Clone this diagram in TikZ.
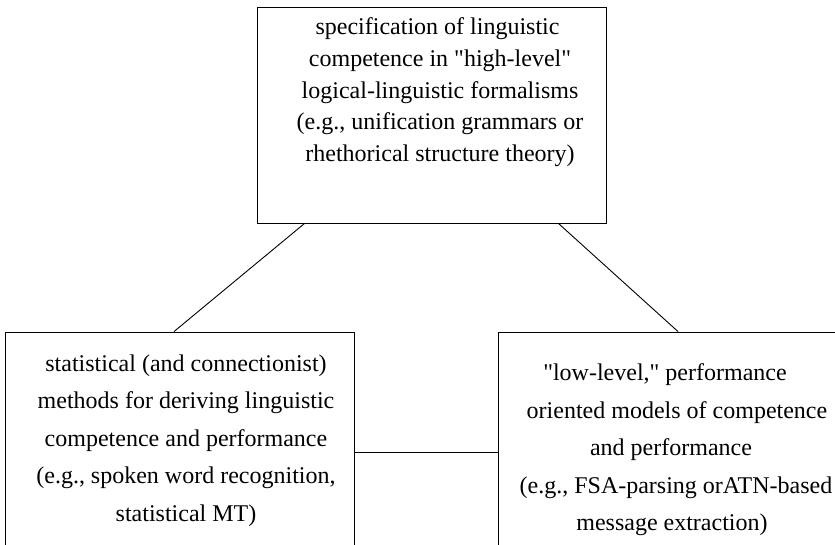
\documentclass[tikz,border=0pt]{standalone}
\usepackage{fontspec}
\setmainfont{Liberation Serif}
\usetikzlibrary{positioning}

\tikzset{
  frame/.style={draw, line width=0.9pt, minimum width=349pt, minimum height=216pt, inner sep=0pt},
  txt/.style={align=center, inner sep=0pt, font=\fontsize{24}{37.5}\selectfont},
  link/.style={line width=0.9pt}
}
\newcommand{\qt}{\textquotedbl}

\begin{document}
\begin{tikzpicture}[x=1pt,y=-1pt]
  \useasboundingbox (0,0) rectangle (835,545);
  \clip (0,0) rectangle (835,545);
  % Define nodes
  \node[frame]             (spec) at (431.5,115) {};
  \node[frame]             (stat) at (179.5,440) {};
  \node[frame]             (perf) at (672.5,440) {};
  % Texts of the boxes
  \node[txt, font=\fontsize{24}{31.7}\selectfont, below=11pt of spec.north, xshift=8.5pt] (spectxt)
    {specification of linguistic\hspace*{5pt}\\competence in \qt high-level\qt\hspace*{8pt}\\logical-linguistic formalisms\\(e.g., unification grammars or\\rhethorical structure theory)};
  \node[txt, below=23pt of stat.north, xshift=6.5pt] (stattxt)
    {statistical (and connectionist)\\methods for deriving linguistic\\competence and performance\\(e.g., spoken word recognition,\\statistical MT)};
  \node[txt, below=32pt of perf.north, xshift=-1.5pt] (perftxt)
    {\qt low-level,\qt{} performance\hspace*{12pt}\\\hspace*{12pt}oriented models of competence\\and performance\hspace*{10pt}\\\hspace*{10pt}(e.g., FSA-parsing orATN-based\\\hspace*{2pt}message extraction)};
  % Connect the nodes
  \draw[link] ([xshift=48pt]spec.south west) -- ([xshift=-5.5pt]stat.north);
  \draw[link] ([xshift=-48pt]spec.south east) -- ([xshift=5.5pt]perf.north);
  \draw[link] ([yshift=-12pt]stat.east) -- ([yshift=-12pt]perf.west);
\end{tikzpicture}
\end{document}
